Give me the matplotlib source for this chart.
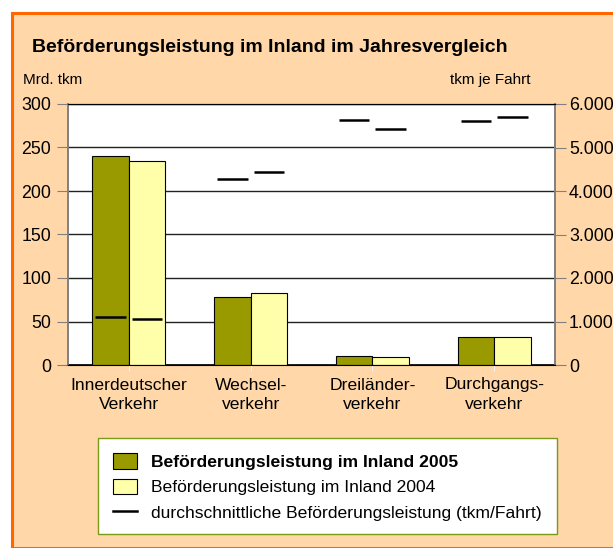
import matplotlib
matplotlib.use("Agg")
import matplotlib.pyplot as plt
from matplotlib.patches import Rectangle, Patch
from matplotlib.lines import Line2D
from matplotlib.ticker import FuncFormatter

plt.rcParams['font.family'] = ['Liberation Sans', 'DejaVu Sans']

categories = ["Innerdeutscher\nVerkehr", "Wechsel-\nverkehr", "Dreiländer-\nverkehr", "Durchgangs-\nverkehr"]
leistung_2005 = [240, 78, 10.7, 32.5]
leistung_2004 = [235, 82.8, 9.6, 32.3]
avg_2005 = [1095, 4280, 5625, 5600]
avg_2004 = [1065, 4445, 5420, 5700]
left_ticks = [0, 50, 100, 150, 200, 250, 300]
right_ticks = [0, 1000, 2000, 3000, 4000, 5000, 6000]
legend_labels = ["Beförderungsleistung im Inland 2005",
                 "Beförderungsleistung im Inland 2004",
                 "durchschnittliche Beförderungsleistung (tkm/Fahrt)"]

W, H = 613, 548
bg = '#FFD7A8'
olive = '#999900'
yellow = '#FFFFAA'

fig = plt.figure(figsize=(W/100, H/100), dpi=100)
fig.patch.set_facecolor('white')

# orange frame
fig.patches.append(Rectangle((11.5/W, 0), 1.2, (H-12.5)/H, transform=fig.transFigure,
                             facecolor=bg, edgecolor='#FF6600', linewidth=2.2, zorder=-10))

ax = fig.add_axes([68/W, (H-365)/H, (555-68)/W, (365-104)/H])
ax.set_facecolor('white')
x = list(range(len(categories)))
bw = 0.3
ax.bar([i - bw/2 for i in x], leistung_2005, width=bw, color=olive, edgecolor='black', linewidth=0.8, zorder=3)
ax.bar([i + bw/2 for i in x], leistung_2004, width=bw, color=yellow, edgecolor='black', linewidth=0.8, zorder=3)
ax.set_xlim(-0.5, len(categories) - 0.5)
ax.set_ylim(0, 300)
ax.set_yticks(left_ticks)
ax.yaxis.grid(True, color='#222222', linewidth=1.0, zorder=0)
ax.set_axisbelow(True)
ax.set_xticks(x)
ax.set_xticklabels(categories, fontsize=12.6, linespacing=1.4)
ax.tick_params(axis='x', length=4, color='#F4F4F4', pad=5)
ax.tick_params(axis='y', length=8, color='#808080', labelsize=12.8, pad=4)
for s in ['left', 'right']:
    ax.spines[s].set_color('#808080')
    ax.spines[s].set_linewidth(1.2)
ax.spines['top'].set_color('black')
ax.spines['bottom'].set_color('black')
ax.spines['bottom'].set_linewidth(1.2)

ax2 = ax.twinx()
ax2.set_ylim(0, 6000)
ax2.set_yticks(right_ticks)
ax2.yaxis.set_major_formatter(FuncFormatter(lambda v, p: f"{int(v):,}".replace(",", ".")))
ax2.tick_params(axis='y', length=8, color='#808080', labelsize=12.8, pad=2)
for s in ['left', 'right']:
    ax2.spines[s].set_color('#808080')
    ax2.spines[s].set_linewidth(1.2)
half = 0.125
ax2.hlines(avg_2005, [i - bw/2 - half for i in x], [i - bw/2 + half for i in x], color='black', linewidth=1.8, zorder=5)
ax2.hlines(avg_2004, [i + bw/2 - half for i in x], [i + bw/2 + half for i in x], color='black', linewidth=1.8, zorder=5)

fig.text(270/W, 1 - 47/H, "Beförderungsleistung im Inland im Jahresvergleich", ha='center', va='center',
         fontsize=14, fontweight='bold')
fig.text(23/W, 1 - 80/H, "Mrd. tkm", ha='left', va='center', fontsize=11)
fig.text(450/W, 1 - 80/H, "tkm je Fahrt", ha='left', va='center', fontsize=11)

# legend box
fig.patches.append(Rectangle((98/W, 1 - 534/H), (557-98)/W, (534-438)/H, transform=fig.transFigure,
                             facecolor='white', edgecolor='#7A9A1A', linewidth=1.0, zorder=1))
handles = [Patch(facecolor=olive, edgecolor='black', linewidth=0.8),
           Patch(facecolor=yellow, edgecolor='black', linewidth=0.8),
           Line2D([0], [0], color='black', linewidth=1.8)]
leg = fig.legend(handles, legend_labels, loc='center left', bbox_to_anchor=(113/W, 1 - 487/H),
                 frameon=False, fontsize=12.6, handlelength=1.35, handleheight=0.95, handletextpad=0.8,
                 labelspacing=0.5, borderaxespad=0, borderpad=0)
leg.get_texts()[0].set_fontweight('bold')

fig.savefig("out.png", dpi=100, facecolor=fig.get_facecolor())
